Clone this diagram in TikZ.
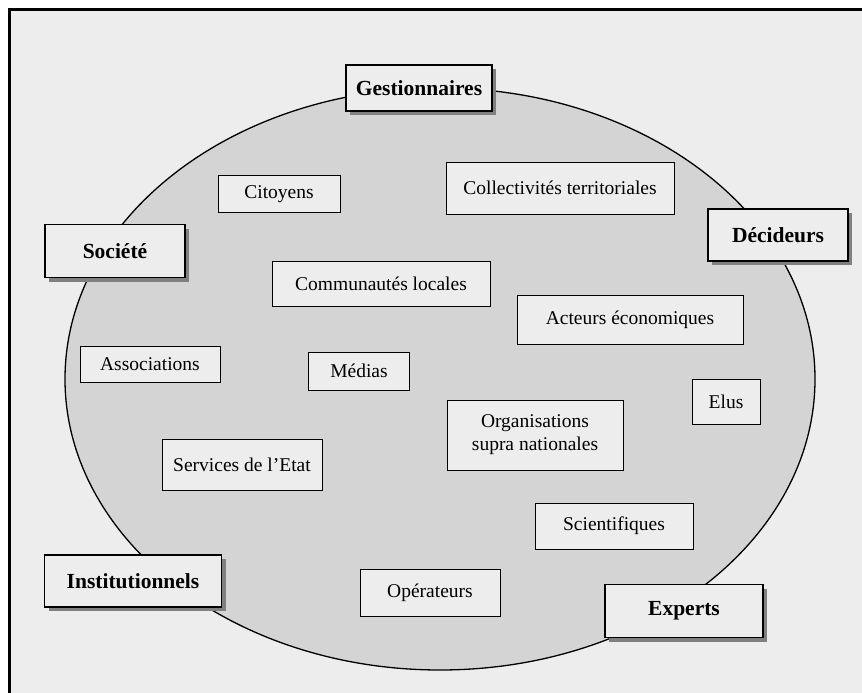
\documentclass[tikz,border=0pt]{standalone}
\usepackage{fontspec}
\setmainfont{Liberation Serif}
\usetikzlibrary{shapes.geometric, shadows}
\definecolor{paper}{RGB}{237,237,237}
\definecolor{disc}{RGB}{212,212,212}
\tikzstyle{group} = [rectangle, draw, line width=1.3pt, inner sep=0pt, fill=paper, text centered, font=\fontsize{21.5}{25}\selectfont\bfseries, drop shadow={shadow xshift=4pt, shadow yshift=-4pt, fill=black!50, opacity=1}]
\tikzstyle{actor} = [rectangle, draw, line width=1pt, inner sep=0pt, fill=paper, text centered, align=center, font=\fontsize{19.5}{23}\selectfont]
\tikzstyle{zone} = [ellipse, draw, line width=1.3pt, inner sep=0pt, fill=disc]

\begin{document}
\begin{tikzpicture}[x=1pt, y=-1pt]
            \useasboundingbox (0,0) rectangle (862,693);
            \fill[white] (0,0) rectangle (862,693);
            \fill[paper] (9,10) rectangle (862,693);
            \draw[line width=3pt] (9,700) |- (870,10);

            \node [zone, minimum width=750pt, minimum height=582pt] at (440,379) (area) {};

            \node [group, minimum width=146pt, minimum height=46pt] at (419,88) (gest) {Gestionnaires};
            \node [group, minimum width=140pt, minimum height=52pt] at (778,235) (dec) {Décideurs};
            \node [group, minimum width=140pt, minimum height=53pt] at (115,251) (soc) {Société};
            \node [group, minimum width=177pt, minimum height=52pt] at (133,581) (inst) {Institutionnels};
            \node [group, minimum width=158pt, minimum height=53pt] at (684,611) (exp) {Experts};

            \node [actor, minimum width=122pt, minimum height=37pt] at (279,194) (cit) {Citoyens};
            \node [actor, minimum width=228pt, minimum height=52pt] at (560,188) (coll) {Collectivités territoriales};
            \node [actor, minimum width=218pt, minimum height=45pt] at (381,284) (comm) {Communautés locales};
            \node [actor, minimum width=226pt, minimum height=49pt] at (630,320) (act) {Acteurs économiques};
            \node [actor, minimum width=140pt, minimum height=36pt] at (150,364) (assoc) {Associations};
            \node [actor, minimum width=101pt, minimum height=38pt] at (359,371) (med) {Médias};
            \node [actor, minimum width=68pt, minimum height=45pt] at (726,402) (elus) {Elus};
            \node [actor, minimum width=176pt, minimum height=70pt] at (535,435) (org) {Organisations\\supra nationales};
            \node [actor, minimum width=160pt, minimum height=51pt] at (242,465) (serv) {Services de l'Etat};
            \node [actor, minimum width=158pt, minimum height=46pt] at (614,526) (sci) {Scientifiques};
            \node [actor, minimum width=140pt, minimum height=47pt] at (430,593) (op) {Opérateurs};
\end{tikzpicture}
\end{document}
